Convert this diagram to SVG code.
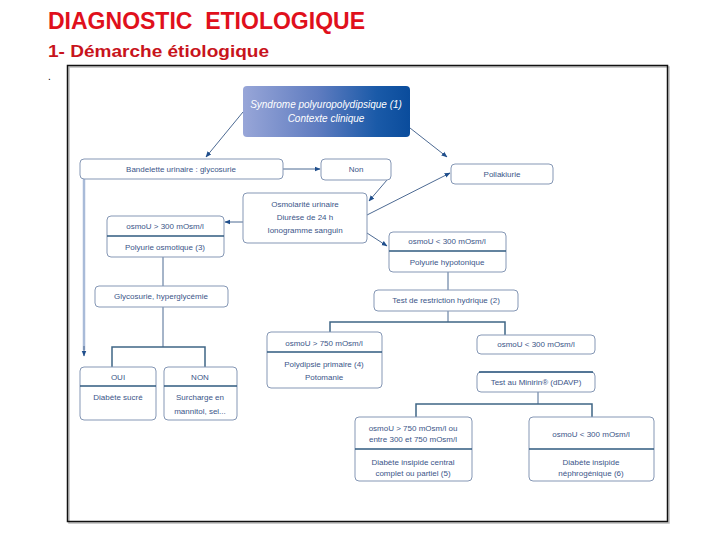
<svg xmlns="http://www.w3.org/2000/svg" width="720" height="540" viewBox="0 0 720 540">
<defs>
<linearGradient id="g1" x1="0" y1="0" x2="1" y2="0">
<stop offset="0" stop-color="#98a6d8"/>
<stop offset="0.45" stop-color="#5f7cc0"/>
<stop offset="0.8" stop-color="#1a5aa8"/>
<stop offset="1" stop-color="#0a4c9c"/>
</linearGradient>
<marker id="ar" viewBox="0 0 10 10" refX="9" refY="5" markerWidth="6" markerHeight="6" orient="auto" markerUnits="userSpaceOnUse">
<path d="M0,1 L10,5 L0,9 z" fill="#1f4e8c"/>
</marker>
<style>
.box{fill:#fff;stroke:#8597b5;stroke-width:1}
.div{stroke:#2f5a7f;stroke-width:1.6}
.t{font-family:"Liberation Sans Narrow","Liberation Sans",sans-serif;font-size:8px;fill:#3b5588;text-anchor:middle;font-stretch:condensed}
.tw{font-family:"Liberation Sans Narrow","Liberation Sans",sans-serif;font-size:10px;fill:#fff;text-anchor:middle;font-style:italic}
.c{stroke:#4d6a93;stroke-width:1;fill:none}
.ca{stroke:#4d6a93;stroke-width:1;fill:none;marker-end:url(#ar)}
.br{stroke:#3f6585;stroke-width:1.5;fill:none}
</style>
</defs>
<rect width="720" height="540" fill="#fff"/>
<text x="48" y="29" xml:space="preserve" font-family="Liberation Sans,sans-serif" font-weight="bold" font-size="24" fill="#e0101c" textLength="317" lengthAdjust="spacingAndGlyphs">DIAGNOSTIC  ETIOLOGIQUE</text>
<text x="48" y="57" font-family="Liberation Sans,sans-serif" font-weight="bold" font-size="17" fill="#c8141c" textLength="221" lengthAdjust="spacingAndGlyphs">1- Démarche étiologique</text>
<text x="48" y="80" font-family="Liberation Sans,sans-serif" font-size="10" fill="#000">.</text>
<rect x="69" y="67" width="600" height="456" fill="none" stroke="#bbb" stroke-width="1.5"/>
<rect x="67.5" y="65.5" width="600" height="456" fill="none" stroke="#111" stroke-width="1.5"/>

<g id="connectors">
<line class="ca" x1="243" y1="112" x2="206" y2="157"/>
<line class="ca" x1="410" y1="128" x2="447" y2="157"/>
<line class="ca" x1="283" y1="169" x2="320" y2="169"/>
<line class="ca" x1="387" y1="180" x2="369" y2="201"/>
<line class="ca" x1="367" y1="215" x2="450" y2="173"/>
<line class="ca" x1="367" y1="233" x2="387" y2="246"/>
<line class="ca" x1="243" y1="222" x2="225" y2="222"/>
<line x1="84" y1="179" x2="84" y2="350" stroke="#a9bbd8" stroke-width="2.5"/>
<line class="ca" x1="84" y1="346" x2="84" y2="356"/>
<line class="c" x1="163" y1="257" x2="163" y2="286" stroke="#7a8aa0"/>
<line class="c" x1="163" y1="307" x2="163" y2="347"/>
<path class="br" d="M112,367 V347 H205 V367"/>
<line class="c" x1="448" y1="272" x2="448" y2="290"/>
<line class="c" x1="448" y1="311" x2="448" y2="322"/>
<path class="br" d="M330,332 V322 H505 V335"/>
<line class="c" x1="538" y1="392" x2="538" y2="404"/>
<path class="br" d="M416,417 V404 H592 V417"/>
</g>

<g id="n_syndrome">
<rect x="243" y="86" width="167" height="51" rx="4" fill="url(#g1)"/>
<text class="tw" x="326" y="108">Syndrome polyuropolydipsique (1)</text>
<text class="tw" x="326" y="122">Contexte clinique</text>
</g>
<g id="n_bandelette">
<rect class="box" x="80" y="159" width="203" height="20" rx="4"/>
<text class="t" x="181" y="172">Bandelette urinaire : glycosurie</text>
</g>
<g id="n_non">
<rect class="box" x="321" y="159" width="70" height="21" rx="4"/>
<text class="t" x="356" y="172">Non</text>
</g>
<g id="n_pollakiurie">
<rect class="box" x="451" y="164" width="102" height="20" rx="4"/>
<text class="t" x="502" y="177">Pollakiurie</text>
</g>
<g id="n_osmolarite">
<rect class="box" x="243" y="193" width="124" height="50" rx="4"/>
<text class="t" x="305" y="207">Osmolarité urinaire</text>
<text class="t" x="305" y="220">Diurèse de 24 h</text>
<text class="t" x="305" y="233">Ionogramme sanguin</text>
</g>
<g id="n_osmo300sup">
<rect class="box" x="107" y="216" width="117" height="41" rx="4"/>
<line class="div" x1="107" y1="236" x2="224" y2="236"/>
<text class="t" x="165" y="229">osmoU &gt; 300 mOsm/l</text>
<text class="t" x="165" y="250">Polyurie osmotique (3)</text>
</g>
<g id="n_glycosurie">
<rect class="box" x="95" y="286" width="133" height="21" rx="4"/>
<text class="t" x="161" y="299">Glycosurie, hyperglycémie</text>
</g>
<g id="n_oui">
<rect class="box" x="80" y="367" width="76" height="53" rx="4"/>
<line class="div" x1="80" y1="386" x2="156" y2="386"/>
<text class="t" x="118" y="380">OUI</text>
<text class="t" x="118" y="400">Diabète sucré</text>
</g>
<g id="n_nonbox">
<rect class="box" x="164" y="367" width="73" height="53" rx="4"/>
<line class="div" x1="164" y1="386" x2="237" y2="386"/>
<text class="t" x="200" y="380">NON</text>
<text class="t" x="200" y="400">Surcharge en</text>
<text class="t" x="200" y="414">mannitol, sel...</text>
</g>
<g id="n_osmo300inf">
<rect class="box" x="389" y="232" width="117" height="40" rx="4"/>
<line class="div" x1="389" y1="251" x2="506" y2="251"/>
<text class="t" x="447" y="244">osmoU &lt; 300 mOsm/l</text>
<text class="t" x="447" y="265">Polyurie hypotonique</text>
</g>
<g id="n_restriction">
<rect class="box" x="374" y="290" width="144" height="21" rx="4"/>
<text class="t" x="446" y="303">Test de restriction hydrique (2)</text>
</g>
<g id="n_osmo750">
<rect class="box" x="267" y="332" width="115" height="56" rx="4"/>
<line class="div" x1="267" y1="352" x2="382" y2="352"/>
<text class="t" x="324" y="346">osmoU &gt; 750 mOsm/l</text>
<text class="t" x="324" y="367">Polydipsie primaire (4)</text>
<text class="t" x="324" y="380">Potomanie</text>
</g>
<g id="n_osmo300b">
<rect class="box" x="477" y="335" width="118" height="19" rx="4"/>
<text class="t" x="536" y="347">osmoU &lt; 300 mOsm/l</text>
</g>
<g id="n_minirin">
<rect class="box" x="477" y="372" width="118" height="20" rx="4"/>
<line class="div" x1="479" y1="372" x2="593" y2="372"/>
<text class="t" x="536" y="385">Test au Minirin® (dDAVP)</text>
</g>
<g id="n_central">
<rect class="box" x="355" y="417" width="117" height="64" rx="4"/>
<line class="div" x1="355" y1="449" x2="472" y2="449"/>
<text class="t" x="413" y="431">osmoU &gt; 750 mOsm/l ou</text>
<text class="t" x="413" y="442">entre 300 et 750 mOsm/l</text>
<text class="t" x="413" y="465">Diabète insipide central</text>
<text class="t" x="413" y="476">complet ou partiel (5)</text>
</g>
<g id="n_nephro">
<rect class="box" x="529" y="417" width="125" height="64" rx="4"/>
<line class="div" x1="529" y1="449" x2="654" y2="449"/>
<text class="t" x="591" y="437">osmoU &lt; 300 mOsm/l</text>
<text class="t" x="591" y="465">Diabète insipide</text>
<text class="t" x="591" y="476">néphrogénique (6)</text>
</g>
</svg>
